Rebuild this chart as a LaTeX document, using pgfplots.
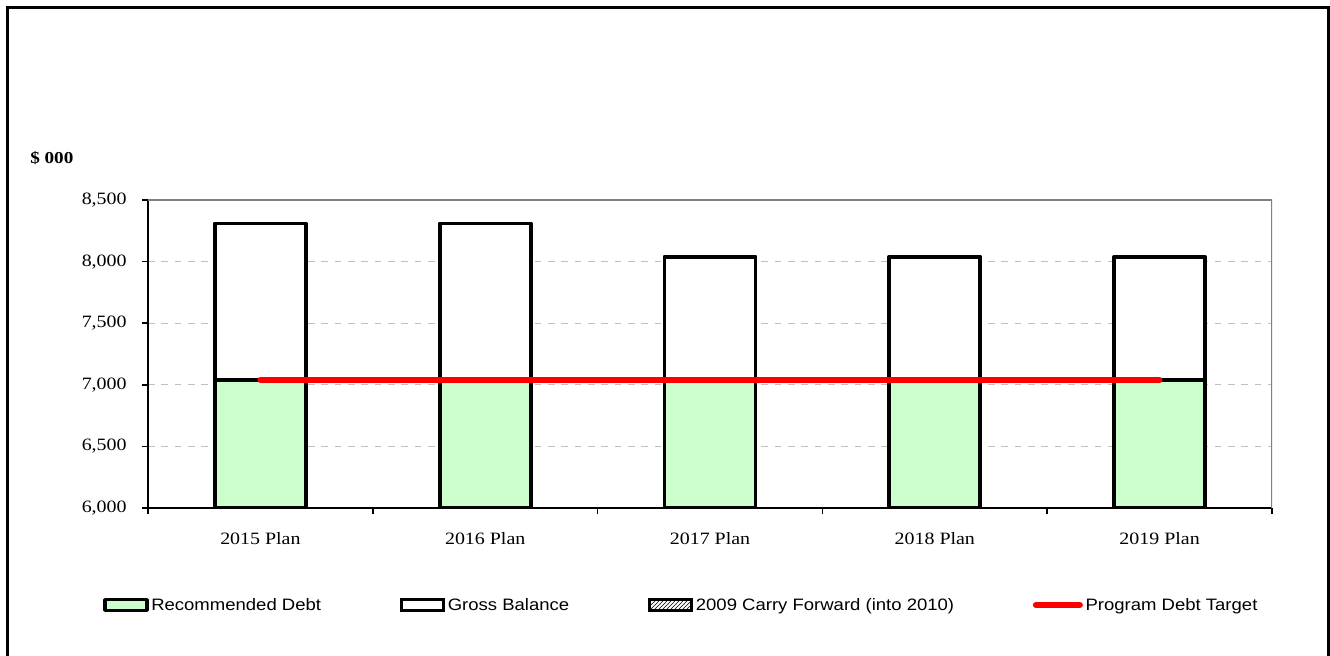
\documentclass[border=0pt]{standalone}
\usepackage{pgfplots}
\pgfplotsset{compat=1.18}
\usepackage{fontspec}
\setmainfont{Liberation Serif}
\newfontfamily\serifx[FakeStretch=1.15]{Liberation Serif}
\newfontfamily\sansx[FakeStretch=1.12]{Liberation Sans}
\usetikzlibrary{patterns}
\definecolor{recgreen}{HTML}{CCFFCC}
\definecolor{gridgray}{HTML}{C0C0C0}
\definecolor{boxgray}{HTML}{808080}
\pgfplotsset{
  barleg/.style={legend image code/.code={\draw[#1, line width=2.5pt] (0pt,-4pt) rectangle (31.5pt,4pt);}},
  lineleg/.style={legend image code/.code={\draw[#1] (0pt,0pt) -- (33pt,0pt);}},
}
\begin{document}
\begin{tikzpicture}
\useasboundingbox (-111pt,-111pt) rectangle (886.5pt,381pt);
\draw[line width=2.25pt] (-105.4pt,-120pt) -- (-105.4pt,375.4pt) -- (885.4pt,375.4pt) -- (885.4pt,-120pt);
\node[anchor=west, inner sep=0pt, font=\serifx\bfseries\fontsize{12.5}{14}\selectfont] at (-88.5pt,262.5pt) {\$ 000};
\begin{axis}[
  at={(0pt,0pt)}, anchor=south west,
  scale only axis, width=843pt, height=231pt,
  xmin=-0.5, xmax=4.5, ymin=6000, ymax=8500,
  ytick={6000,6500,...,8500},
  xtick={-0.5,0.5,...,4.5}, xticklabels={},
  extra x ticks={0,1,2,3,4},
  extra x tick labels={2015 Plan,2016 Plan,2017 Plan,2018 Plan,2019 Plan},
  extra x tick style={major tick length=0pt, grid=none,
     tick label style={yshift=-15pt}},
  tick align=outside, major tick length=4.5pt,
  tick style={black, line width=1.1pt},
  axis x line*=bottom, axis y line*=left,
  axis line style={-, black, line width=1.5pt},
  ymajorgrids,
  grid style={gridgray, dash pattern=on 5pt off 5pt, line width=0.75pt},
  ticklabel style={font=\serifx\fontsize{13}{15}\selectfont},
  yticklabel style={xshift=-8pt, /pgf/number format/.cd, 1000 sep={,}, assume math mode=true},
  legend columns=4,
  legend style={at={(-0.04004,-0.315)}, anchor=west, draw=none, fill=none,
     inner sep=0pt, font=\sansx\fontsize{12.4}{14}\selectfont,
     /tikz/every even column/.append style={column sep=57pt},
     nodes={inner sep=2pt}},
]
\addplot[ybar, bar width=0.405, bar shift=0pt, fill=white, draw=black,
  line width=2.8pt, line join=round, forget plot]
  coordinates {(0,8310) (1,8310) (2,8040) (3,8040) (4,8040)};
\addplot[ybar, bar width=0.405, bar shift=0pt, fill=recgreen, draw=black,
  line width=2.8pt, line join=round, barleg]
  coordinates {(0,7040) (1,7040) (2,7040) (3,7040) (4,7040)};
\addlegendentry{Recommended Debt}
\addlegendimage{barleg, fill=white, draw=black}
\addlegendentry{Gross Balance}
\addlegendimage{barleg, draw=black, pattern=north east lines, pattern color=black}
\addlegendentry{2009 Carry Forward (into 2010)}
\addplot[red, line width=4.5pt, line cap=round, sharp plot, no marks, lineleg]
  coordinates {(0,7040) (4,7040)};
\addlegendentry{Program Debt Target}
\draw[boxgray, line width=1pt] (rel axis cs:0,1) -- (rel axis cs:1,1) -- (rel axis cs:1,0);
\end{axis}
\end{tikzpicture}
\end{document}
